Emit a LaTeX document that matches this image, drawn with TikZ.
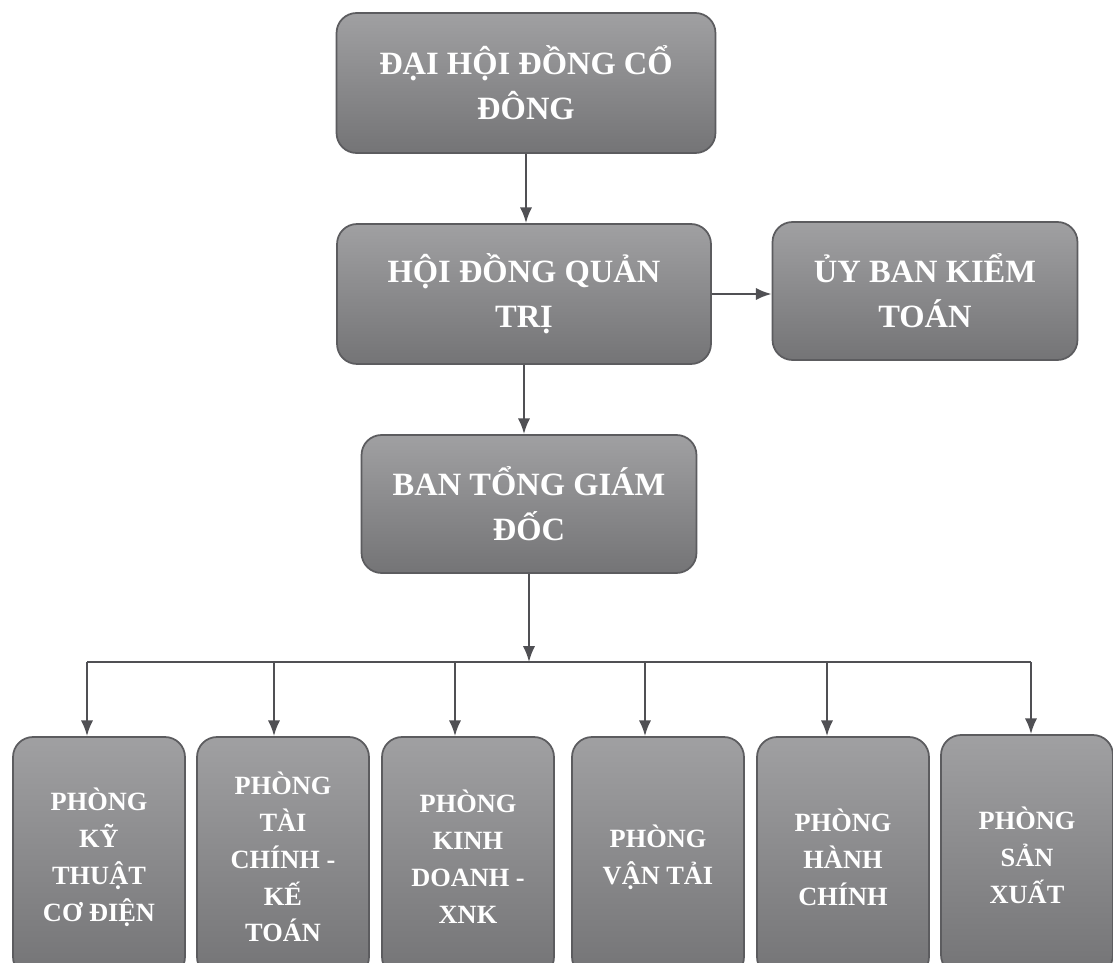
\documentclass[tikz,border=0pt]{standalone}
\usepackage{fontspec}
\setmainfont{Liberation Serif}
\usetikzlibrary{arrows.meta}

\definecolor{boxtop}{RGB}{160,160,162}
\definecolor{boxbot}{RGB}{116,116,118}
\definecolor{boxline}{RGB}{92,92,95}
\definecolor{linkgray}{RGB}{80,80,84}

\begin{document}
\begin{tikzpicture}[
  x=0.02cm, y=-0.02cm,
  >={Latex[length=9pt,width=7pt]},
  unit/.style={rectangle, rounded corners=0.4cm, draw=boxline, line width=1pt,
    top color=boxtop, bottom color=boxbot, text=white, align=center, inner sep=0pt,
    font=\fontsize{18.5}{25.5}\selectfont\bfseries},
  dept/.style={unit, minimum width=3.44cm, minimum height=4.8cm,
    font=\fontsize{15}{21}\selectfont\bfseries},
  link/.style={line width=1.2pt, draw=linkgray},
  arr/.style={link, ->}
]
  \useasboundingbox (0,0) rectangle (1113,963);
  \clip (0,0) rectangle (1113,963);

  % upper levels
  \node[unit, minimum width=7.58cm, minimum height=2.8cm] (dhcd) at (526,83)
    {ĐẠI HỘI ĐỒNG CỔ\\ĐÔNG};
  \node[unit, minimum width=7.48cm, minimum height=2.8cm] (hdqt) at (524,294)
    {HỘI ĐỒNG QUẢN\\TRỊ};
  \node[unit, minimum width=6.1cm, minimum height=2.76cm] (ubkt) at (925,291)
    {ỦY BAN KIỂM\\TOÁN};
  \node[unit, minimum width=6.7cm, minimum height=2.76cm] (btgd) at (529,504)
    {BAN TỔNG GIÁM\\ĐỐC};

  % departments
  \node[dept] (pkt) at (99,857)   {PHÒNG\\KỸ\\THUẬT\\CƠ ĐIỆN};
  \node[dept] (ptc) at (283,857)  {PHÒNG\\TÀI\\CHÍNH -\\KẾ\\TOÁN};
  \node[dept] (pkd) at (468,857)  {PHÒNG\\KINH\\DOANH -\\XNK};
  \node[dept] (pvt) at (658,857)  {PHÒNG\\VẬN TẢI};
  \node[dept] (phc) at (843,857)  {PHÒNG\\HÀNH\\CHÍNH};
  \node[dept] (psx) at (1027,855) {PHÒNG\\SẢN\\XUẤT};

  \draw[arr] (dhcd.south) -- (dhcd.south |- hdqt.north);
  \draw[arr] (hdqt.east) -- (ubkt.west |- hdqt.east);
  \draw[arr] (hdqt.south) -- (hdqt.south |- btgd.north);

  \coordinate (bus) at (530,662);
  \draw[arr] (btgd.south) -- (btgd.south |- bus);
  \foreach \n/\x in {pkt/87, ptc/274, pkd/455, pvt/645, phc/827, psx/1031}
  {
    \coordinate (d\n) at (\x,662);
    \draw[arr] (d\n) -- (d\n |- \n.north);
  }
  \draw[link] (dpkt) -- (dpsx);
\end{tikzpicture}
\end{document}
